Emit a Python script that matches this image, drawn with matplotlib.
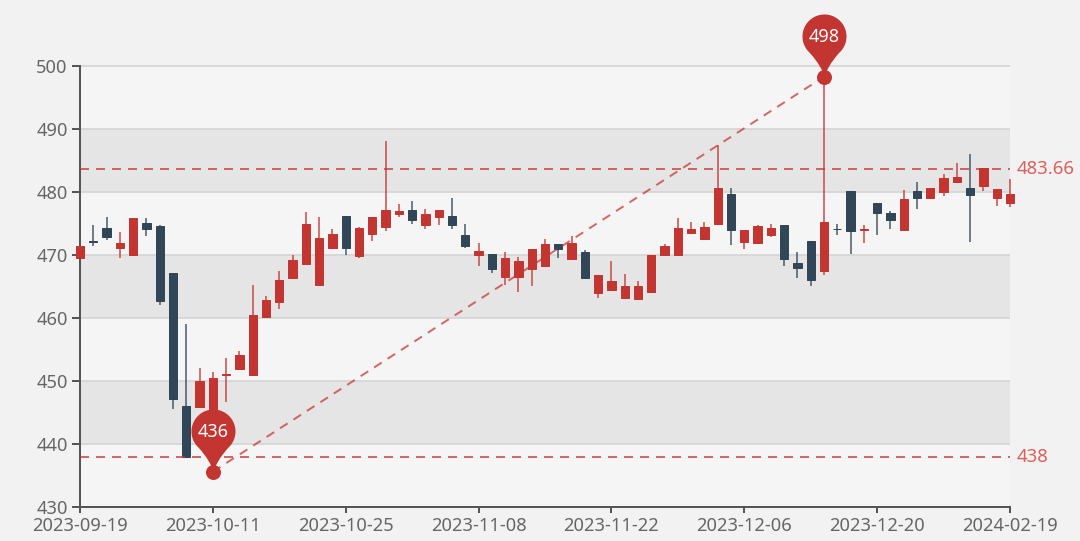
import numpy as np
import matplotlib
matplotlib.use("Agg")
import matplotlib.pyplot as plt
from matplotlib.path import Path

plt.rcParams["font.family"] = ["Noto Sans", "DejaVu Sans"]

# 蜡烛图数据，红涨(收>开)，深蓝跌(收<开)
opens = [469.5, 472.2, 474.3, 471.1, 470.0, 475.1, 474.6, 467.1, 446.1, 445.9,
         442.0, 451.0, 451.9, 451.0, 460.1, 462.5, 466.4, 468.5, 465.2, 471.1,
         476.2, 469.9, 473.3, 474.5, 476.5, 477.1, 474.7, 476.0, 476.2, 473.2,
         470.0, 470.2, 466.5, 466.5, 467.7, 468.2, 471.8, 469.3, 470.4, 464.0,
         464.5, 463.2, 463.0, 464.1, 470.0, 470.0, 473.5, 472.5, 475.0, 479.7,
         472.0, 471.9, 473.2, 474.8, 468.7, 472.2, 467.5, 474.2, 480.2, 474.0,
         478.2, 476.6, 474.0, 480.2, 479.0, 480.0, 481.6, 480.7, 480.9, 479.0,
         478.2]
closes = [471.4, 472.0, 472.8, 471.9, 475.9, 474.1, 462.7, 447.1, 438.0, 450.0,
          450.5, 451.1, 454.1, 460.4, 462.8, 466.1, 469.2, 475.0, 472.7, 473.4,
          471.1, 474.3, 476.0, 477.1, 477.0, 475.5, 476.5, 477.1, 474.7, 471.4,
          470.7, 467.8, 469.6, 469.1, 470.9, 471.7, 470.9, 471.9, 466.4, 466.9,
          465.8, 465.1, 465.1, 470.0, 471.4, 474.3, 474.1, 474.5, 480.7, 474.0,
          473.9, 474.6, 474.3, 469.4, 467.9, 466.0, 475.2, 474.1, 473.8, 474.1,
          476.7, 475.6, 478.9, 479.0, 480.7, 482.3, 482.4, 479.6, 483.8, 480.5,
          479.7]
lows = [468.2, 471.4, 472.4, 469.5, 470.0, 473.0, 462.1, 445.5, 438.0, 445.9,
        435.6, 446.6, 451.9, 451.0, 460.1, 461.5, 466.4, 468.5, 465.2, 471.1,
        470.0, 469.6, 472.3, 473.8, 476.1, 474.9, 474.1, 474.7, 474.1, 471.1,
        468.2, 467.1, 465.3, 464.2, 465.1, 468.2, 469.6, 469.3, 466.2, 463.1,
        464.5, 463.2, 463.0, 464.1, 470.0, 470.0, 473.3, 472.5, 475.0, 471.6,
        470.9, 471.9, 472.8, 468.3, 466.4, 465.1, 466.8, 473.1, 470.2, 471.9,
        473.1, 474.1, 474.0, 477.3, 479.0, 479.4, 481.6, 472.0, 480.2, 477.8,
        477.6]
highs = [471.6, 474.8, 476.1, 473.7, 475.9, 475.9, 474.7, 467.2, 459.0, 452.0,
         451.5, 453.7, 454.8, 465.3, 463.5, 467.5, 470.0, 476.9, 476.1, 474.1,
         476.2, 474.4, 476.1, 488.1, 478.1, 478.6, 477.3, 477.1, 479.1, 475.0,
         471.9, 470.2, 470.5, 469.7, 470.9, 472.5, 471.8, 473.0, 470.8, 466.9,
         469.1, 467.0, 465.9, 470.0, 471.7, 475.8, 475.3, 475.3, 487.4, 480.6,
         473.9, 474.8, 475.0, 474.8, 470.4, 472.2, 498.3, 474.9, 480.2, 474.8,
         478.2, 477.0, 480.3, 481.6, 480.7, 482.9, 484.6, 486.0, 483.8, 480.5,
         482.0]

x_labels = ["2023-09-19", "2023-10-11", "2023-10-25", "2023-11-08",
            "2023-11-22", "2023-12-06", "2023-12-20", "2024-02-19"]
x_label_idx = [0, 10, 20, 30, 40, 50, 60, 70]
y_ticks = [430, 440, 450, 460, 470, 480, 490, 500]

avg_line = 483.66
low_line = 438
min_idx, min_value = 10, 435.6
max_idx, max_value = 56, 498.3

UP = "#c23531"
DOWN = "#314656"
LABEL = "#666666"
AXIS = "#555555"
PX = 72 / 100  # 1像素对应的磅数


def pin_path():
    # 水滴形标记，原点在针尖
    r, cy = 22, 41
    angles = np.radians(np.linspace(-48, 228, 60))
    verts = [(0, 0), (2.5, 11)]
    codes = [Path.MOVETO, Path.CURVE3]
    verts.append((r * np.cos(angles[0]), cy + r * np.sin(angles[0])))
    codes.append(Path.CURVE3)
    for a in angles[1:]:
        verts.append((r * np.cos(a), cy + r * np.sin(a)))
        codes.append(Path.LINETO)
    verts += [(-2.5, 11), (0, 0)]
    codes += [Path.CURVE3, Path.CURVE3]
    return Path(verts, codes), 2 * (cy + r) * PX


fig = plt.figure(figsize=(10.8, 5.41), dpi=100, facecolor="#f2f2f2")
ax = fig.add_axes([80 / 1080, 1 - 507 / 541, 930 / 1080, 441 / 541], facecolor="#f5f5f5")

x = np.arange(len(opens))
opens_arr = np.array(opens)
closes_arr = np.array(closes)
colors = [UP if c >= o else DOWN for o, c in zip(opens, closes)]

# 背景条带和网格
for i in range(len(y_ticks) - 1):
    if i % 2 == 1:
        ax.axhspan(y_ticks[i], y_ticks[i + 1], color="#e5e5e5", lw=0, zorder=0)
ax.hlines(y_ticks[1:], 0, 70, color="#d6d6d6", lw=1.8 * PX, zorder=1, clip_on=False)

# 蜡烛
ax.vlines(x, lows, highs, colors=colors, lw=1.8 * PX, alpha=0.75, zorder=2, clip_on=False)
ax.bar(x, closes_arr - opens_arr, bottom=opens_arr, width=0.62, color=colors,
       edgecolor=colors, linewidth=1 * PX, zorder=3, clip_on=False)

# 标记线
dash = dict(color=UP, lw=2 * PX, alpha=0.72, dashes=(4.5, 3.5), zorder=4, clip_on=False)
ax.plot([0, 70], [avg_line, avg_line], **dash)
ax.plot([0, 70], [low_line, low_line], **dash)
ax.plot([min_idx, max_idx], [min_value, max_value], **dash)

for val, txt in [(avg_line, "483.66"), (low_line, "438")]:
    ax.annotate(txt, (70, val), xytext=(7 * PX, 0), textcoords="offset points",
                ha="left", va="center", color="#d9615c", fontsize=13.4, annotation_clip=False)

# 最高最低点
pin, pin_size = pin_path()
for idx, val in [(min_idx, min_value), (max_idx, max_value)]:
    ax.plot([idx], [val], marker=pin, ms=pin_size, mfc=UP, mec="none", ls="none",
            zorder=6, clip_on=False)
    ax.plot([idx], [val], marker="o", ms=15 * PX, mfc=UP, mec="none", ls="none",
            zorder=6, clip_on=False)
    ax.annotate(str(round(val)), (idx, val), xytext=(0, 40 * PX), textcoords="offset points",
                ha="center", va="center", color="white", fontsize=13, zorder=7,
                annotation_clip=False)

ax.set_xlim(0, 70)
ax.set_ylim(430, 500)
ax.set_xticks(x_label_idx)
ax.set_xticklabels(x_labels)
ax.set_yticks(y_ticks)
ax.tick_params(axis="x", length=6 * PX, width=2 * PX, color=AXIS, labelcolor=LABEL,
               labelsize=13.2, pad=3)
ax.tick_params(axis="y", length=8 * PX, width=2 * PX, color=AXIS, labelcolor=LABEL,
               labelsize=13.2, pad=3)
for side in ["top", "right"]:
    ax.spines[side].set_visible(False)
for side in ["left", "bottom"]:
    ax.spines[side].set_color(AXIS)
    ax.spines[side].set_linewidth(2 * PX)

fig.savefig("out.png", dpi=100, facecolor=fig.get_facecolor())
